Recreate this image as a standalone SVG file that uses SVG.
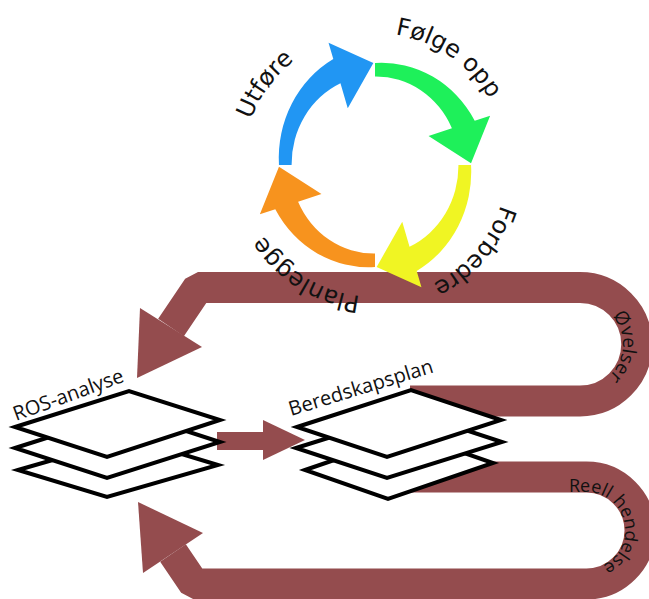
<svg xmlns="http://www.w3.org/2000/svg" width="649" height="599" viewBox="0 0 649 599">
  <style>
    .band { fill: none; stroke: #944c4e; stroke-width: 31; stroke-linejoin: bevel; }
    .head { fill: #944c4e; }
    .layer { fill: #ffffff; stroke: #000000; stroke-width: 4; stroke-linejoin: miter; }
    .lbl { font-family: "Open Sans", "Noto Sans", sans-serif; font-size: 19px; fill: #111111; }
    .cyc { font-family: "DejaVu Sans", sans-serif; font-size: 24px; fill: #111111; }
  </style>
  <defs>
    <!-- one quarter of the improvement cycle: tapered curved arrow, tail at 0deg, tip at ~90deg -->
    <path id="cycArrow" d="M 99 0 A 110 110 0 0 1 43 102.8 L 47.9 118.7 L 1.7 99 L 28.1 55.2 L 35.6 79.3 A 86 86 0 0 0 86 0 Z"/>
    <!-- baseline circle for the cycle labels (clockwise, starts at the right) -->
    <path id="ringText" d="M 507 165 A 132 132 0 1 1 243 165 A 132 132 0 1 1 507 165"/>
    <!-- baselines along the inside of the two U-bends -->
    <path id="upperBend" d="M 580 301 A 43 43 0 0 1 580 387"/>
    <path id="lowerBend" d="M 560 492 H 586.5 A 38.5 38.5 0 0 1 586.5 569 H 560"/>
  </defs>

  <rect width="649" height="599" fill="#ffffff"/>

  <!-- connectors -->
  <g id="connectors">
    <path id="exercise-loop" class="band" d="M 410 401 H 580 A 56.75 56.75 0 0 0 580 287.5 H 198 L 171 327.5"/>
    <polygon class="head" points="140,308 137,378 202,347"/>
    <path id="incident-loop" class="band" d="M 410 477 H 586.5 A 53.5 53.5 0 0 1 586.5 584 H 194 L 173 553"/>
    <polygon class="head" points="143,573 138,502 203,533"/>
    <g id="ros-to-plan">
      <rect class="head" x="217" y="432" width="47" height="18"/>
      <polygon class="head" points="263,420 305,440 263,460"/>
    </g>
  </g>

  <!-- ROS-analyse document stack -->
  <g id="ros-analyse">
    <polygon class="layer" points="18,470 129,438 218,465 107,497"/>
    <polygon class="layer" points="15,448 128,412 220,442 107,478"/>
    <polygon class="layer" points="15,427 129,391 220,420 107,457"/>
    <text class="lbl" style="font-size:20px" transform="translate(16,421) rotate(-20)" textLength="116" lengthAdjust="spacingAndGlyphs">ROS-analyse</text>
  </g>

  <!-- Beredskapsplan document stack -->
  <g id="beredskapsplan">
    <polygon class="layer" points="305,470 410,434 493,463 388,499"/>
    <polygon class="layer" points="296,448 411,412 502,442 387,478"/>
    <polygon class="layer" points="297,427 411,390 501,420 387,457"/>
    <text class="lbl" style="font-size:20px" transform="translate(291,416) rotate(-17)" textLength="150" lengthAdjust="spacingAndGlyphs">Beredskapsplan</text>
  </g>

  <!-- loop labels -->
  <g id="loop-labels">
    <text class="lbl"><textPath href="#upperBend" startOffset="52%" text-anchor="middle">Øvelser</textPath></text>
    <text class="lbl" style="font-size:18px"><textPath href="#lowerBend" startOffset="9">Reell hendelse</textPath></text>
  </g>

  <!-- improvement cycle -->
  <g id="cycle" transform="translate(375,165) scale(0.97,1.03)">
    <g id="planlegge"><use href="#cycArrow" transform="rotate(90)" fill="#f7931e"/></g>
    <g id="utfore"><use href="#cycArrow" transform="rotate(180)" fill="#2196f3"/></g>
    <g id="folge-opp"><use href="#cycArrow" transform="rotate(270)" fill="#1ef05a"/></g>
    <g id="forbedre"><use href="#cycArrow" fill="#f0f523"/></g>
  </g>

  <g id="cycle-labels">
    <text class="cyc"><textPath href="#ringText" startOffset="498" text-anchor="middle">Utføre</textPath></text>
    <text class="cyc"><textPath href="#ringText" startOffset="701" text-anchor="middle">Følge opp</textPath></text>
    <text class="cyc"><textPath href="#ringText" startOffset="94" text-anchor="middle">Forbedre</textPath></text>
    <text class="cyc"><textPath href="#ringText" startOffset="281" text-anchor="middle">Planlegge</textPath></text>
  </g>
</svg>
